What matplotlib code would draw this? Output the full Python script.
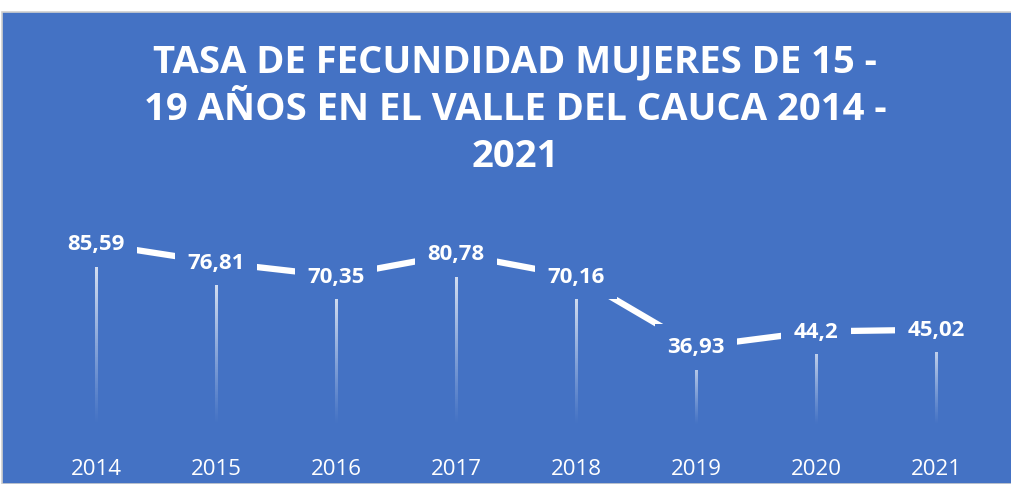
import matplotlib.pyplot as plt
import numpy as np
from matplotlib.patches import Rectangle

years = ["2014", "2015", "2016", "2017", "2018", "2019", "2020", "2021"]
tasa = [85.59, 76.81, 70.35, 80.78, 70.16, 36.93, 44.2, 45.02]
title_lines = ["TASA DE FECUNDIDAD MUJERES DE 15 -",
               "19 AÑOS EN EL VALLE DEL CAUCA 2014 -",
               "2021"]

BLUE = "#4472C4"
W, H = 1012, 485

fig = plt.figure(figsize=(W / 100, H / 100), dpi=100, facecolor="white")
# fondo azul del grafico
fig.add_artist(Rectangle((2 / W, 0), 1.0, (H - 13) / H, transform=fig.transFigure,
                         facecolor=BLUE, edgecolor="#D0D0D0", linewidth=1.2, zorder=-10))

ax = fig.add_axes([36 / W, 59 / H, 960 / W, 211.7 / H])
ax.set_facecolor("none")
x = np.arange(len(years))

# lineas de caida con degradado (blanco -> transparente)
n = 200
grad = np.ones((n, 1, 4))
grad[:, 0, 3] = 0.9 * np.linspace(1, 0, n) ** 1.1
half = 0.009
for xi, v in zip(x, tasa):
    ax.imshow(grad, extent=(xi - half, xi + half, 0, v), origin="upper",
              aspect="auto", interpolation="bilinear", zorder=1)

ax.plot(x, tasa, color="white", linewidth=4.5, solid_capstyle="butt", zorder=2)

for xi, v in zip(x, tasa):
    lbl = f"{v:g}".replace(".", ",")
    ax.text(xi, v, lbl, ha="center", va="center", color="white", fontsize=16,
            fontweight="bold", family="Open Sans", zorder=3,
            bbox=dict(boxstyle="square,pad=0.55", facecolor=BLUE, edgecolor="none"))

ax.set_xlim(-0.5, len(years) - 0.5)
ax.set_ylim(0, 100)
ax.set_xticks(x)
ax.set_xticklabels(years, color="white", fontsize=16, family="Open Sans")
ax.tick_params(axis="x", length=0, pad=24)
ax.set_yticks([])
for s in ax.spines.values():
    s.set_visible(False)

for i, t in enumerate(title_lines):
    yc = 62 + i * 47.5
    fig.text(515 / W, 1 - yc / H, t, ha="center", va="center", color="white",
             fontsize=27.5, fontweight="bold", family="Open Sans")

fig.savefig("out.png", dpi=100, facecolor="white")
